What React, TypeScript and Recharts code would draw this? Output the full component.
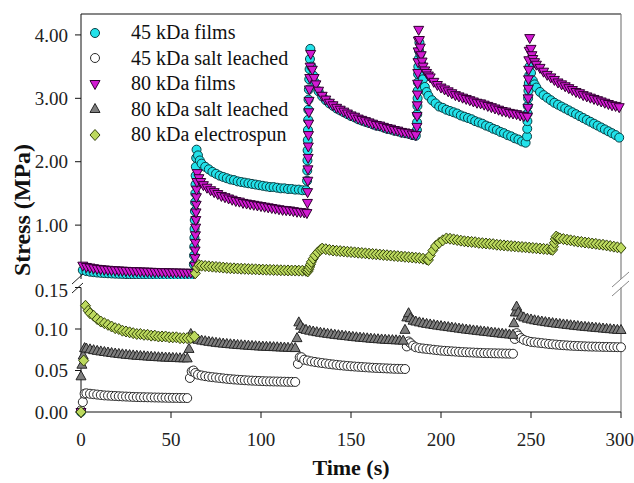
import React from 'react';
import { ScatterChart, Scatter, XAxis, YAxis, ReferenceLine, Legend } from 'recharts';

type Pt = [number, number];

// [time (s), stress (MPa)]
const FILMS_45: Pt[] = [
  [0, 0],
  [1, 0.29], [3, 0.275], [5, 0.265], [7, 0.258], [9, 0.252], [11, 0.247], [13, 0.243], [15, 0.24], [17, 0.237], [19, 0.234],
  [21, 0.232], [23, 0.23], [25, 0.228], [27, 0.226], [29, 0.225], [31, 0.223], [33, 0.222], [35, 0.221], [37, 0.22], [39, 0.219],
  [41, 0.218], [43, 0.217], [45, 0.216], [47, 0.215], [49, 0.215], [51, 0.214], [53, 0.213], [55, 0.213], [57, 0.212], [59, 0.212], [61, 0.211],
  [62.6, 0.25], [62.7, 0.38], [62.8, 0.52], [62.9, 0.66], [63, 0.8], [63.1, 0.94], [63.2, 1.08], [63.3, 1.22], [63.4, 1.36], [63.5, 1.5],
  [63.6, 1.64], [63.7, 1.78], [63.8, 1.92], [64, 2.06], [64.2, 2.19],
  [65, 2.1], [66, 2.02], [67, 1.97], [69, 1.92], [71, 1.88], [73, 1.84], [75, 1.81], [77, 1.78], [79, 1.76], [81, 1.74],
  [83, 1.72], [85, 1.71], [87, 1.69], [89, 1.68], [91, 1.67], [93, 1.66], [95, 1.65], [97, 1.64], [99, 1.63], [101, 1.62],
  [103, 1.61], [105, 1.6], [107, 1.6], [109, 1.59], [111, 1.58], [113, 1.58], [115, 1.57], [117, 1.57], [119, 1.56], [121, 1.56], [123, 1.55], [125, 1.55],
  [125.6, 1.7], [125.7, 1.86], [125.8, 2.02], [125.9, 2.18], [126, 2.34], [126.1, 2.5], [126.2, 2.66], [126.3, 2.82], [126.4, 2.98],
  [126.6, 3.14], [126.8, 3.3], [127, 3.46], [127.2, 3.62], [127.4, 3.78],
  [128, 3.5], [129, 3.36], [130, 3.25], [132, 3.11], [134, 3.03], [136, 2.97], [138, 2.92], [140, 2.88], [142, 2.84], [144, 2.81],
  [146, 2.78], [148, 2.75], [150, 2.72], [152, 2.7], [154, 2.67], [156, 2.65], [158, 2.63], [160, 2.61], [162, 2.59], [164, 2.57],
  [166, 2.56], [168, 2.54], [170, 2.52], [172, 2.51], [174, 2.49], [176, 2.48], [178, 2.46], [180, 2.45], [182, 2.44], [184, 2.42], [186, 2.41],
  [186.6, 2.5], [186.7, 2.62], [186.8, 2.75], [186.9, 2.88], [187, 3], [187.1, 3.12], [187.2, 3.25], [187.3, 3.38], [187.4, 3.5],
  [187.6, 3.62], [187.8, 3.75], [188, 3.88],
  [188.5, 3.7], [189, 3.55], [189.5, 3.42], [190, 3.3], [191, 3.18], [192, 3.1], [193, 3.04], [195, 2.97], [197, 2.92], [199, 2.87],
  [201, 2.85], [203, 2.82], [205, 2.8], [207, 2.78], [209, 2.76], [211, 2.73], [213, 2.71], [215, 2.69], [217, 2.67], [219, 2.64],
  [221, 2.62], [223, 2.6], [225, 2.57], [227, 2.55], [229, 2.52], [231, 2.5], [233, 2.47], [235, 2.45], [237, 2.42], [239, 2.4],
  [241, 2.37], [243, 2.35], [245, 2.32], [247, 2.3],
  [247.8, 2.4], [247.9, 2.52], [248, 2.64], [248.1, 2.76], [248.2, 2.88], [248.4, 3], [248.6, 3.12], [248.8, 3.24], [249, 3.36], [249.2, 3.5],
  [250, 3.4], [251, 3.28], [252, 3.22], [253, 3.17], [255, 3.1], [257, 3.05], [259, 3.01], [261, 2.97], [263, 2.93], [265, 2.9],
  [267, 2.87], [269, 2.84], [271, 2.81], [273, 2.78], [275, 2.75], [277, 2.72], [279, 2.69], [281, 2.66], [283, 2.63], [285, 2.6],
  [287, 2.57], [289, 2.54], [291, 2.51], [293, 2.48], [295, 2.45], [297, 2.42], [299, 2.38],
];

const SALT_45: Pt[] = [
  [0, 0.002], [1, 0.012], [2, 0.022], [3, 0.0225], [5, 0.022], [7, 0.0215], [9, 0.021], [11, 0.0205], [13, 0.02], [15, 0.0198],
  [17, 0.0195], [19, 0.0193], [21, 0.019], [23, 0.0188], [25, 0.0186], [27, 0.0184], [29, 0.0182], [31, 0.018], [33, 0.0179], [35, 0.0178],
  [37, 0.0177], [39, 0.0176], [41, 0.0175], [43, 0.0174], [45, 0.0173], [47, 0.0172], [49, 0.0171], [51, 0.017], [53, 0.017], [55, 0.0169], [57, 0.0169], [59, 0.0168],
  [60.5, 0.041], [61.5, 0.049], [62.5, 0.05], [63.5, 0.047], [65, 0.045], [67, 0.044], [69, 0.0432], [71, 0.0425], [73, 0.042], [75, 0.0415],
  [77, 0.041], [79, 0.0405], [81, 0.04], [83, 0.0396], [85, 0.0392], [87, 0.0389], [89, 0.0386], [91, 0.0383], [93, 0.038], [95, 0.0378],
  [97, 0.0376], [99, 0.0374], [101, 0.0372], [103, 0.037], [105, 0.0369], [107, 0.0368], [109, 0.0367], [111, 0.0366], [113, 0.0365], [115, 0.0364], [117, 0.0363], [119, 0.0362],
  [120.5, 0.058], [121.5, 0.066], [122.5, 0.066], [124, 0.063], [126, 0.062], [128, 0.061], [130, 0.0603], [132, 0.0596], [134, 0.059], [136, 0.0584],
  [138, 0.0578], [140, 0.0573], [142, 0.0568], [144, 0.0563], [146, 0.0559], [148, 0.0555], [150, 0.0551], [152, 0.0548], [154, 0.0545], [156, 0.0542],
  [158, 0.0539], [160, 0.0536], [162, 0.0533], [164, 0.0531], [166, 0.0529], [168, 0.0527], [170, 0.0525], [172, 0.0523], [174, 0.0521], [176, 0.052], [178, 0.0519], [180, 0.0518],
  [181, 0.079], [182, 0.085], [183, 0.083], [184.5, 0.08], [186, 0.078], [188, 0.077], [190, 0.0765], [192, 0.076], [194, 0.0755], [196, 0.075],
  [198, 0.0745], [200, 0.074], [202, 0.0737], [204, 0.0734], [206, 0.0731], [208, 0.0728], [210, 0.0725], [212, 0.0722], [214, 0.072], [216, 0.0718],
  [218, 0.0716], [220, 0.0714], [222, 0.0712], [224, 0.071], [226, 0.0709], [228, 0.0708], [230, 0.0707], [232, 0.0706], [234, 0.0705], [236, 0.0704], [238, 0.0703], [240, 0.0702],
  [241, 0.088], [242, 0.095], [243, 0.092], [244.5, 0.089], [246, 0.087], [248, 0.0855], [250, 0.0845], [252, 0.084], [254, 0.0835], [256, 0.083],
  [258, 0.0825], [260, 0.082], [262, 0.0816], [264, 0.0812], [266, 0.0808], [268, 0.0805], [270, 0.0802], [272, 0.0799], [274, 0.0797], [276, 0.0795],
  [278, 0.0793], [280, 0.0791], [282, 0.0789], [284, 0.0788], [286, 0.0787], [288, 0.0786], [290, 0.0785], [292, 0.0784], [294, 0.0783], [296, 0.0782], [298, 0.0781], [300, 0.078],
];

const FILMS_80: Pt[] = [
  [0, 0],
  [1, 0.36], [3, 0.34], [5, 0.33], [7, 0.32], [9, 0.31], [11, 0.305], [13, 0.3], [15, 0.295], [17, 0.29], [19, 0.287],
  [21, 0.284], [23, 0.281], [25, 0.278], [27, 0.275], [29, 0.273], [31, 0.271], [33, 0.269], [35, 0.267], [37, 0.265], [39, 0.263],
  [41, 0.261], [43, 0.259], [45, 0.257], [47, 0.256], [49, 0.254], [51, 0.253], [53, 0.252], [55, 0.25], [57, 0.249], [59, 0.248], [61, 0.247], [63, 0.246],
  [63.2, 0.36], [63.3, 0.48], [63.4, 0.6], [63.5, 0.72], [63.6, 0.84], [63.7, 0.96], [63.8, 1.08], [63.9, 1.2], [64, 1.32], [64.1, 1.44],
  [64.2, 1.56], [64.4, 1.68], [64.6, 1.82],
  [65.5, 1.74], [66.5, 1.68], [68, 1.63], [70, 1.59], [72, 1.55], [74, 1.52], [76, 1.49], [78, 1.46], [80, 1.44], [82, 1.42],
  [84, 1.4], [86, 1.38], [88, 1.37], [90, 1.35], [92, 1.34], [94, 1.33], [96, 1.32], [98, 1.31], [100, 1.3], [102, 1.29],
  [104, 1.28], [106, 1.27], [108, 1.26], [110, 1.25], [112, 1.24], [114, 1.235], [116, 1.23], [118, 1.22], [120, 1.21], [122, 1.205], [124, 1.2], [125.5, 1.19],
  [125.8, 1.35], [125.9, 1.52], [126, 1.7], [126.1, 1.88], [126.2, 2.06], [126.3, 2.24], [126.4, 2.42], [126.5, 2.6], [126.6, 2.78],
  [126.7, 2.96], [126.9, 3.14], [127.1, 3.32], [127.3, 3.5], [127.6, 3.7],
  [128.5, 3.45], [129.5, 3.32], [130.5, 3.22], [132, 3.12], [134, 3.04], [136, 2.98], [138, 2.93], [140, 2.89], [142, 2.85], [144, 2.82],
  [146, 2.79], [148, 2.76], [150, 2.73], [152, 2.71], [154, 2.68], [156, 2.66], [158, 2.64], [160, 2.62], [162, 2.6], [164, 2.58],
  [166, 2.57], [168, 2.55], [170, 2.53], [172, 2.52], [174, 2.5], [176, 2.49], [178, 2.47], [180, 2.46], [182, 2.45], [184, 2.43], [186, 2.42],
  [186.6, 2.55], [186.7, 2.72], [186.8, 2.89], [186.9, 3.06], [187, 3.23], [187.1, 3.4], [187.2, 3.57], [187.3, 3.74], [187.4, 3.91], [187.6, 4.08],
  [188, 3.92], [188.5, 3.8], [189, 3.68], [189.5, 3.58], [190, 3.5], [191, 3.44], [192, 3.4], [193, 3.36], [194, 3.33], [196, 3.26],
  [198, 3.21], [200, 3.17], [202, 3.14], [204, 3.11], [206, 3.08], [208, 3.05], [210, 3.03], [212, 3.01], [214, 2.99], [216, 2.97],
  [218, 2.95], [220, 2.93], [222, 2.92], [224, 2.9], [226, 2.88], [228, 2.86], [230, 2.84], [232, 2.82], [234, 2.8], [236, 2.79],
  [238, 2.77], [240, 2.76], [242, 2.75], [244, 2.73], [246, 2.72], [248, 2.71],
  [248.3, 2.85], [248.4, 3], [248.5, 3.15], [248.6, 3.3], [248.7, 3.45], [248.8, 3.6], [249, 3.75], [249.3, 3.95],
  [250, 3.78], [250.5, 3.68], [251, 3.62], [252, 3.57], [253, 3.53], [255, 3.48], [257, 3.42], [259, 3.37], [261, 3.33], [263, 3.29],
  [265, 3.25], [267, 3.22], [269, 3.19], [271, 3.16], [273, 3.13], [275, 3.1], [277, 3.08], [279, 3.05], [281, 3.03], [283, 3.01],
  [285, 2.99], [287, 2.97], [289, 2.95], [291, 2.93], [293, 2.91], [295, 2.89], [297, 2.88], [299, 2.86],
];

const SALT_80: Pt[] = [
  [0, 0.043], [0.5, 0.057], [1.2, 0.068], [2, 0.077], [3, 0.0765], [5, 0.0755], [7, 0.0745], [9, 0.0737], [11, 0.073], [13, 0.0723],
  [15, 0.0717], [17, 0.0711], [19, 0.0705], [21, 0.07], [23, 0.0695], [25, 0.069], [27, 0.0686], [29, 0.0682], [31, 0.0678], [33, 0.0675],
  [35, 0.0672], [37, 0.0669], [39, 0.0666], [41, 0.0663], [43, 0.066], [45, 0.0658], [47, 0.0656], [49, 0.0654], [51, 0.0652], [53, 0.065], [55, 0.0648], [57, 0.0647], [59, 0.0646],
  [60, 0.076], [61, 0.094], [62, 0.09], [63.5, 0.088], [65, 0.087], [67, 0.086], [69, 0.0853], [71, 0.0846], [73, 0.084], [75, 0.0834],
  [77, 0.0829], [79, 0.0824], [81, 0.082], [83, 0.0816], [85, 0.0812], [87, 0.0808], [89, 0.0805], [91, 0.0802], [93, 0.0799], [95, 0.0796],
  [97, 0.0793], [99, 0.079], [101, 0.0788], [103, 0.0786], [105, 0.0784], [107, 0.0782], [109, 0.078], [111, 0.0778], [113, 0.0776], [115, 0.0774], [117, 0.0772], [119, 0.077],
  [120, 0.089], [121, 0.108], [122, 0.104], [123.5, 0.1], [125, 0.099], [127, 0.098], [129, 0.097], [131, 0.0962], [133, 0.0955], [135, 0.0948],
  [137, 0.0942], [139, 0.0936], [141, 0.093], [143, 0.0925], [145, 0.092], [147, 0.0915], [149, 0.091], [151, 0.0905], [153, 0.09], [155, 0.0896],
  [157, 0.0892], [159, 0.0888], [161, 0.0884], [163, 0.088], [165, 0.0877], [167, 0.0874], [169, 0.0871], [171, 0.0868], [173, 0.0866], [175, 0.0864], [177, 0.0862], [179, 0.086],
  [180, 0.099], [181, 0.114], [182, 0.119], [183, 0.113], [184.5, 0.11], [186, 0.109], [188, 0.108], [190, 0.107], [192, 0.1062], [194, 0.1055],
  [196, 0.1048], [198, 0.1041], [200, 0.1035], [202, 0.1029], [204, 0.1023], [206, 0.1017], [208, 0.1011], [210, 0.1005], [212, 0.0999], [214, 0.0993],
  [216, 0.0988], [218, 0.0983], [220, 0.0978], [222, 0.0973], [224, 0.0968], [226, 0.0963], [228, 0.0958], [230, 0.0953], [232, 0.0948], [234, 0.0943], [236, 0.0938], [238, 0.0934], [240, 0.093],
  [240.5, 0.107], [241.3, 0.12], [242, 0.127], [243, 0.12], [244.5, 0.116], [246, 0.114], [248, 0.1125], [250, 0.1115], [252, 0.1105], [254, 0.1097],
  [256, 0.109], [258, 0.1083], [260, 0.1077], [262, 0.1071], [264, 0.1065], [266, 0.106], [268, 0.1055], [270, 0.105], [272, 0.1045], [274, 0.104],
  [276, 0.1035], [278, 0.103], [280, 0.1026], [282, 0.1022], [284, 0.1018], [286, 0.1014], [288, 0.101], [290, 0.1006], [292, 0.1002], [294, 0.0998], [296, 0.0994], [298, 0.099], [300, 0.0988],
];

const SPUN_80: Pt[] = [
  [0, 0], [1.5, 0.062], [2.5, 0.128], [4, 0.122], [5, 0.119], [7, 0.116], [9, 0.112], [11, 0.109], [13, 0.107], [15, 0.105],
  [17, 0.103], [19, 0.101], [21, 0.1], [23, 0.098], [25, 0.097], [27, 0.096], [29, 0.095], [31, 0.094], [33, 0.094], [35, 0.093],
  [37, 0.093], [39, 0.092], [41, 0.092], [43, 0.091], [45, 0.091], [47, 0.091], [49, 0.09], [51, 0.09], [53, 0.09], [55, 0.089],
  [57, 0.089], [59, 0.089], [61, 0.089], [63, 0.091],
  [63.5, 0.24], [64.5, 0.33], [65.5, 0.37], [67, 0.36], [69, 0.355], [71, 0.35], [73, 0.345], [75, 0.34], [77, 0.335], [79, 0.33],
  [81, 0.325], [83, 0.32], [85, 0.318], [87, 0.315], [89, 0.312], [91, 0.31], [93, 0.307], [95, 0.305], [97, 0.303], [99, 0.3],
  [101, 0.298], [103, 0.296], [105, 0.294], [107, 0.292], [109, 0.29], [111, 0.288], [113, 0.286], [115, 0.285], [117, 0.284], [119, 0.283],
  [121, 0.282], [123, 0.281], [125, 0.28], [126, 0.27],
  [126.5, 0.3], [127, 0.34], [127.5, 0.38], [128, 0.42], [129, 0.47], [130, 0.52], [131.5, 0.57], [133, 0.61], [134, 0.63],
  [136, 0.62], [138, 0.61], [140, 0.6], [142, 0.595], [144, 0.59], [146, 0.585], [148, 0.58], [150, 0.575], [152, 0.57], [154, 0.565],
  [156, 0.56], [158, 0.555], [160, 0.55], [162, 0.545], [164, 0.54], [166, 0.535], [168, 0.53], [170, 0.525], [172, 0.52], [174, 0.515],
  [176, 0.51], [178, 0.505], [180, 0.5], [182, 0.495], [184, 0.49], [186, 0.485], [188, 0.48], [190, 0.47], [192, 0.46],
  [193, 0.45], [194, 0.52], [195.5, 0.6], [197, 0.67], [199, 0.72], [201, 0.76], [203, 0.79],
  [205, 0.785], [207, 0.775], [209, 0.765], [211, 0.755], [213, 0.745], [215, 0.74], [217, 0.735], [219, 0.73], [221, 0.72], [223, 0.715],
  [225, 0.71], [227, 0.705], [229, 0.7], [231, 0.69], [233, 0.685], [235, 0.68], [237, 0.675], [239, 0.67], [241, 0.665], [243, 0.66],
  [245, 0.655], [247, 0.65], [249, 0.645], [251, 0.64], [253, 0.635], [255, 0.63], [257, 0.625], [259, 0.62], [261, 0.615], [262, 0.61],
  [262.5, 0.66], [263, 0.72], [263.5, 0.78], [264, 0.82],
  [265, 0.8], [266, 0.79], [268, 0.78], [270, 0.77], [272, 0.76], [274, 0.75], [276, 0.74], [278, 0.735], [280, 0.725], [282, 0.72],
  [284, 0.71], [286, 0.705], [288, 0.695], [290, 0.69], [292, 0.68], [294, 0.67], [296, 0.66], [298, 0.65], [300, 0.64],
];

const X_TICKS = [0, 50, 100, 150, 200, 250, 300];
const UPPER_TICKS = [1, 2, 3, 4];
const LOWER_TICKS = [0, 0.05, 0.1, 0.15];
const AXIS_BREAK = 0.15;

const SERIF = "'Liberation Serif', 'Times New Roman', serif";

type Kind = 'circle' | 'up' | 'down' | 'diamond';

const SERIES: { name: string; data: Pt[]; kind: Kind; fill: string; stroke: string }[] = [
  { name: '45 kDa films', data: FILMS_45, kind: 'circle', fill: '#22e2ea', stroke: '#0a3f44' },
  { name: '45 kDa salt leached', data: SALT_45, kind: 'circle', fill: '#ffffff', stroke: '#2a2a2a' },
  { name: '80 kDa films', data: FILMS_80, kind: 'down', fill: '#d21ad2', stroke: '#300030' },
  { name: '80 kDa salt leached', data: SALT_80, kind: 'up', fill: '#7e7e7e', stroke: '#262626' },
  { name: '80 kDa electrospun', data: SPUN_80, kind: 'diamond', fill: '#bcd95e', stroke: '#34440c' },
];

const Marker = ({ cx, cy, kind, fill, stroke }: { cx?: number; cy?: number; kind: Kind; fill: string; stroke: string }) => {
  if (cx == null || cy == null) return null;
  const common = { fill, stroke, strokeWidth: 1 };
  if (kind === 'circle') return <circle cx={cx} cy={cy} r={4.5} {...common} />;
  if (kind === 'up') return <path d={`M${cx},${cy - 5.5}L${cx + 5},${cy + 3.5}L${cx - 5},${cy + 3.5}Z`} {...common} />;
  if (kind === 'down') return <path d={`M${cx},${cy + 5.5}L${cx + 5},${cy - 3.5}L${cx - 5},${cy - 3.5}Z`} {...common} />;
  return <path d={`M${cx},${cy - 5.5}L${cx + 5},${cy}L${cx},${cy + 5.5}L${cx - 5},${cy}Z`} {...common} />;
};

const LegendBox = () => (
  <div style={{ fontFamily: SERIF, fontSize: 20, color: '#111' }}>
    {SERIES.map((s) => (
      <div key={s.name} style={{ display: 'flex', alignItems: 'center', height: 25.5 }}>
        <svg width={16} height={16} style={{ marginRight: 28 }}>
          <Marker cx={8} cy={8} kind={s.kind} fill={s.fill} stroke={s.stroke} />
        </svg>
        <span>{s.name}</span>
      </div>
    ))}
  </div>
);

const tickStyle = { fontSize: 19, fill: '#222', fontFamily: SERIF };
const fmt = (v: number) => v.toFixed(2);

const panelData = (data: Pt[], upper: boolean) =>
  data.filter(([, v]) => (upper ? v >= AXIS_BREAK : v < AXIS_BREAK)).map(([t, v]) => ({ t, v }));

const renderSeries = (upper: boolean) =>
  SERIES.map((s) => (
    <Scatter
      key={s.name}
      name={s.name}
      data={panelData(s.data, upper)}
      isAnimationActive={false}
      shape={(p: any) => <Marker cx={p.cx} cy={p.cy} kind={s.kind} fill={s.fill} stroke={s.stroke} />}
    />
  ));

export default function App() {
  return (
    <div style={{ position: 'absolute', left: 0, top: 0, width: 634, height: 483, background: '#fff' }}>
      <div style={{ position: 'absolute', left: 0, top: 0 }}>
        <ScatterChart width={634} height={279} margin={{ top: 14, right: 13, bottom: 0, left: 0 }}>
          <XAxis type="number" dataKey="t" domain={[0, 300]} hide />
          <YAxis
            type="number"
            dataKey="v"
            domain={[AXIS_BREAK, 4.33]}
            ticks={UPPER_TICKS}
            tickFormatter={fmt}
            width={81}
            tickSize={6}
            tickMargin={7}
            tick={tickStyle}
            axisLine={{ stroke: '#111' }}
            tickLine={{ stroke: '#111' }}
          />
          <ReferenceLine y={4.33} stroke="#111" strokeWidth={1.2} />
          <ReferenceLine x={300} stroke="#808080" strokeWidth={1.2} />
          {renderSeries(true)}
          <Legend
            layout="vertical"
            align="center"
            verticalAlign="middle"
            wrapperStyle={{ left: 87, top: 20, width: 240 }}
            content={() => <LegendBox />}
          />
        </ScatterChart>
      </div>
      <div style={{ position: 'absolute', left: 0, top: 279 }}>
        <ScatterChart width={634} height={204} margin={{ top: 8.5, right: 13, bottom: 0, left: 0 }}>
          <XAxis
            type="number"
            dataKey="t"
            domain={[0, 300]}
            ticks={X_TICKS}
            height={71}
            tickSize={6}
            tickMargin={15}
            tick={tickStyle}
            axisLine={{ stroke: '#111' }}
            tickLine={{ stroke: '#111' }}
            label={{ value: 'Time (s)', position: 'insideBottom', offset: 8, fontSize: 22, fontWeight: 'bold', fill: '#111', fontFamily: SERIF }}
          />
          <YAxis
            type="number"
            dataKey="v"
            domain={[0, AXIS_BREAK]}
            ticks={LOWER_TICKS}
            tickFormatter={fmt}
            width={81}
            tickSize={6}
            tickMargin={7}
            tick={tickStyle}
            axisLine={{ stroke: '#111' }}
            tickLine={{ stroke: '#111' }}
          />
          <ReferenceLine x={300} stroke="#808080" strokeWidth={1.2} />
          {renderSeries(false)}
        </ScatterChart>
      </div>
      <svg width={634} height={483} style={{ position: 'absolute', left: 0, top: 0, pointerEvents: 'none' }}>
        <text
          transform="translate(30 210) rotate(-90)"
          textAnchor="middle"
          fontFamily={SERIF}
          fontSize={24}
          fontWeight="bold"
          fill="#111"
        >
          Stress (MPa)
        </text>
        <g stroke="#222" strokeWidth={1}>
          <line x1={72} y1={284} x2={83} y2={274} />
          <line x1={72} y1={293} x2={83} y2={283} />
        </g>
        <g stroke="#888" strokeWidth={1}>
          <line x1={612} y1={287} x2={629} y2={272} />
          <line x1={612} y1={296} x2={629} y2={281} />
        </g>
      </svg>
    </div>
  );
}
